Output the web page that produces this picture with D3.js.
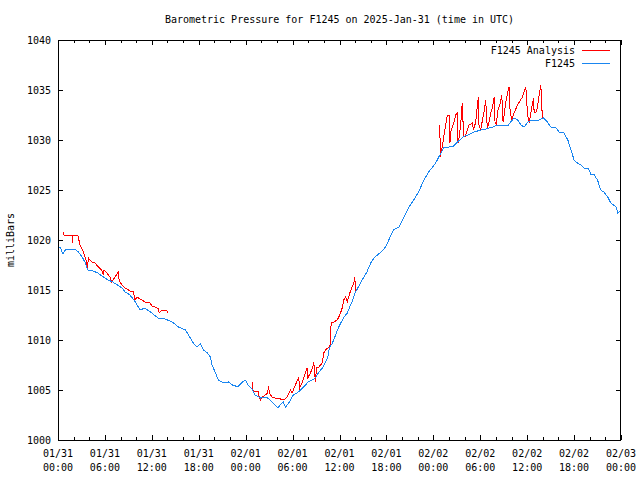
<!DOCTYPE html>
<html>
<head>
<meta charset="utf-8">
<script src="https://cdn.jsdelivr.net/npm/d3@7"></script>
<style>
  body { margin: 0; background: #fff; }
  svg text { font-family: "DejaVu Sans Mono", monospace; font-size: 10px; fill: #000; }
</style>
</head>
<body>
<svg id="chart" width="640" height="480"></svg>
<script>
// hours after 2025-01-31 00:00 UTC
const stationHours = [
  0.0, 0.26, 0.64, 1.0, 2.2, 2.6, 3.1, 3.5, 3.8, 4.5, 5.1, 5.8, 6.4, 7.0, 7.6, 8.2, 8.6, 9.2, 9.9, 10.5,
  11.1, 12.0, 12.8, 13.7, 14.6, 15.4, 16.3, 16.7, 17.3, 17.8, 18.2, 18.6, 19.1, 19.5, 19.7, 20.1, 20.5, 21.0,
  21.4, 21.8, 22.3, 22.7, 23.1, 23.6, 24.0, 24.3, 24.9, 25.2, 25.9, 26.3, 26.8, 27.4, 28.1, 28.4, 28.8,
  29.1, 29.5, 30.1, 30.6, 31.0, 31.4, 32.0, 32.5, 32.9, 33.3, 33.9, 34.5, 34.7, 35.1, 35.5, 35.9, 36.5,
  37.0, 37.3, 37.7, 38.0, 38.4, 38.9, 39.5, 40.0, 40.4, 41.3, 41.9, 42.3, 42.9, 43.6, 44.2, 44.8, 45.5,
  46.1, 46.8, 47.4, 47.9, 48.3, 48.7, 49.3, 50.0, 50.6, 51.1, 51.8, 52.4, 53.2, 54.1, 54.7, 55.1, 55.6,
  56.2, 56.9, 57.5, 57.9, 58.3, 58.8, 59.2, 59.6, 60.1, 60.7, 61.5, 62.1, 62.6, 63.0, 63.7, 64.1, 64.7,
  65.2, 65.6, 66.0, 66.2, 66.9, 67.3, 67.8, 68.2, 68.5, 69.0, 69.4, 69.8, 70.3, 70.7, 71.4, 71.6, 72.0,
];
const stationPressure = [
  1019.3, 1019.3, 1018.6, 1019.1, 1019.1, 1018.8, 1018.3, 1017.7, 1017.0, 1016.9, 1016.7, 1016.3, 1016.0,
  1015.8, 1015.5, 1015.2, 1014.8, 1014.5, 1013.8, 1013.0, 1013.2, 1012.7, 1012.2, 1012.1, 1011.8, 1011.3,
  1011.0, 1010.5, 1009.7, 1009.3, 1009.6, 1009.0, 1008.7, 1008.3, 1007.5, 1006.8, 1006.0, 1005.8, 1005.7,
  1005.8, 1005.5, 1005.4, 1005.4, 1005.8, 1006.0, 1005.5, 1005.0, 1004.5, 1004.2, 1004.3, 1004.2, 1003.8,
  1003.2, 1003.5, 1003.8, 1003.3, 1003.7, 1004.5, 1004.7, 1005.0, 1005.3, 1005.8, 1006.0, 1006.2, 1006.7,
  1007.3, 1008.3, 1009.2, 1009.7, 1010.5, 1011.3, 1012.2, 1012.7, 1013.3, 1014.0, 1014.7, 1015.3, 1016.0,
  1016.8, 1017.7, 1018.2, 1018.8, 1019.3, 1020.0, 1021.0, 1021.3, 1022.2, 1023.2, 1024.0, 1024.8, 1026.0,
  1026.8, 1027.3, 1027.7, 1028.3, 1029.2, 1029.3, 1029.4, 1029.8, 1030.3, 1030.5, 1030.8, 1031.0, 1031.1,
  1031.2, 1031.3, 1031.5, 1031.5, 1031.4, 1031.8, 1032.2, 1032.0, 1031.5, 1031.3, 1031.8, 1032.0, 1032.0,
  1032.2, 1031.8, 1031.3, 1031.2, 1030.8, 1030.7, 1030.0, 1029.0, 1028.0, 1027.8, 1027.5, 1027.2, 1027.2,
  1026.5, 1026.6, 1026.0, 1025.0, 1024.8, 1024.3, 1023.7, 1023.3, 1022.7, 1023.0,
];

// analysis runs, one segment per day
const analysisHours1 = [
  0.68, 0.77, 1.79, 1.83, 1.88, 2.52, 2.82, 3.24, 3.46, 3.68, 3.75, 3.88, 4.32, 4.74, 5.16, 5.60, 5.80,
  5.89, 6.24, 6.66, 6.88, 7.30, 7.72, 7.81, 8.16, 8.58, 9.22, 9.65, 9.86, 10.08, 10.72, 11.15, 11.79,
  12.0, 12.43, 12.85, 12.94, 13.28, 13.93, 14.05,
];
const analysisPressure1 = [
  1020.8, 1020.5, 1020.5, 1019.7, 1020.5, 1020.5, 1019.5, 1018.8, 1018.3, 1017.8, 1017.0, 1018.2, 1017.8,
  1017.7, 1017.3, 1017.0, 1016.5, 1017.0, 1016.7, 1016.3, 1015.8, 1016.3, 1016.8, 1016.0, 1015.5, 1015.2,
  1014.9, 1014.8, 1014.0, 1014.3, 1014.0, 1013.8, 1013.7, 1013.4, 1013.3, 1013.1, 1012.7, 1013.0, 1012.9,
  1012.7,
];
const analysisHours2 = [
  24.81, 24.82, 25.02, 25.62, 25.75, 25.88, 26.10, 26.52, 26.81, 26.94, 27.03, 27.38, 27.80, 28.44, 28.86,
  29.30, 29.72, 29.94, 30.36, 30.78, 30.91, 31.22, 31.64, 31.86, 31.94, 32.28, 32.58, 32.71, 32.92, 33.05,
  33.35, 33.78, 33.99, 34.20, 34.50, 34.76, 34.85, 34.93, 35.27, 35.70, 35.91, 36.13, 36.34, 36.55, 36.77,
  36.99, 37.32, 37.62, 37.83, 37.96, 38.05,
];
const analysisPressure2 = [
  1006.0, 1005.0, 1004.9, 1004.9, 1004.2, 1004.0, 1004.3, 1004.5, 1004.7, 1005.4, 1004.7, 1004.3, 1004.2,
  1004.1, 1004.0, 1004.3, 1005.0, 1004.7, 1005.5, 1006.3, 1005.2, 1005.7, 1006.7, 1007.2, 1006.2, 1006.7,
  1007.3, 1007.8, 1005.8, 1007.2, 1007.3, 1007.7, 1008.7, 1009.0, 1009.2, 1009.3, 1010.0, 1011.7, 1011.8,
  1012.0, 1012.3, 1012.7, 1013.2, 1014.0, 1014.3, 1013.8, 1014.7, 1015.3, 1015.7, 1016.3, 1014.7,
];
const analysisHours3 = [
  48.85, 48.86, 49.15, 49.36, 49.58, 49.80, 50.09, 50.12, 50.22, 50.44, 50.64, 50.86, 51.07, 51.15, 51.28,
  51.50, 51.63, 51.72, 51.85, 52.05, 52.36, 52.56, 52.99, 53.13, 53.42, 53.64, 53.77, 53.84, 54.06, 54.28,
  54.48, 54.70, 54.82, 54.91, 55.12, 55.34, 55.56, 55.77, 55.89, 56.07, 56.20, 56.50, 56.75, 56.92, 57.05,
  57.27, 57.49, 57.69, 57.82, 58.04, 58.33, 58.76, 59.40, 59.83, 60.05, 60.25, 60.60, 60.81, 60.89, 61.11,
  61.32, 61.53, 61.75, 61.87, 61.96,
];
const analysisPressure3 = [
  1031.5, 1028.3, 1029.3, 1030.5, 1031.5, 1032.5, 1032.5, 1029.7, 1030.8, 1031.3, 1031.8, 1032.5, 1032.7,
  1029.7, 1030.2, 1031.5, 1033.2, 1033.7, 1030.5, 1030.3, 1031.0, 1031.5, 1031.7, 1031.0, 1031.8, 1033.5,
  1034.3, 1031.5, 1031.0, 1032.0, 1032.8, 1034.0, 1032.2, 1031.2, 1031.8, 1032.7, 1033.2, 1034.3, 1031.8,
  1031.5, 1032.8, 1033.5, 1034.5, 1031.8, 1032.5, 1033.8, 1034.7, 1035.3, 1032.8, 1032.0, 1032.7, 1033.5,
  1034.3, 1035.3, 1032.5, 1031.7, 1033.3, 1034.2, 1032.8, 1032.7, 1033.3, 1034.5, 1035.5, 1033.3, 1032.2,
];

const yTicks = [1000, 1005, 1010, 1015, 1020, 1025, 1030, 1035, 1040];
const seriesNames = ["F1245 Analysis", "F1245"];
const seriesColors = ["#ff0000", "#1a86f0"];

const PLOT = { left: 58, right: 621, top: 40, bottom: 440 };
const START = Date.UTC(2025, 0, 31);
const HOUR = 3600 * 1000;

const svg = d3.select("#chart");

const x = d3
  .scaleUtc()
  .domain([new Date(START), new Date(START + 72 * HOUR)])
  .range([PLOT.left, PLOT.right]);

const y = d3.scaleLinear().domain([1000, 1040]).range([PLOT.bottom, PLOT.top]);

const toPoints = (hours, values) =>
  hours.map((h, i) => ({ t: new Date(START + h * HOUR), v: values[i] }));

const line = d3
  .line()
  .x((d) => x(d.t))
  .y((d) => y(d.v));

// title and axis label
svg
  .append("text")
  .attr("x", (PLOT.left + PLOT.right) / 2)
  .attr("y", 23)
  .attr("text-anchor", "middle")
  .text("Barometric Pressure for F1245 on 2025-Jan-31 (time in UTC)");

svg
  .append("text")
  .attr("transform", `translate(14, 240) rotate(-90)`)
  .attr("text-anchor", "middle")
  .text("milliBars");

// ticks, inward and mirrored like gnuplot
const majorTimes = d3.utcHour.every(6).range(x.domain()[0], new Date(START + 72 * HOUR + 1));
const minorTimes = d3.utcHour.every(2).range(x.domain()[0], new Date(START + 72 * HOUR + 1));

const tickG = svg.append("g").attr("stroke", "#000").attr("shape-rendering", "crispEdges");

const xTick = (times, len) =>
  times.forEach((t) => {
    const px = Math.round(x(t)) + 0.5;
    tickG.append("line").attr("x1", px).attr("x2", px).attr("y1", PLOT.bottom).attr("y2", PLOT.bottom - len);
    tickG.append("line").attr("x1", px).attr("x2", px).attr("y1", PLOT.top).attr("y2", PLOT.top + len);
  });
xTick(minorTimes, 3);
xTick(majorTimes, 5);

yTicks.forEach((v) => {
  const py = Math.round(y(v)) + 0.5;
  tickG.append("line").attr("x1", PLOT.left).attr("x2", PLOT.left + 5).attr("y1", py).attr("y2", py);
  tickG.append("line").attr("x1", PLOT.right).attr("x2", PLOT.right - 5).attr("y1", py).attr("y2", py);
});

svg
  .append("g")
  .selectAll("text")
  .data(yTicks)
  .join("text")
  .attr("x", 51)
  .attr("y", (d) => y(d) + 4)
  .attr("text-anchor", "end")
  .text((d) => d);

const fmtDay = d3.utcFormat("%m/%d");
const fmtTime = d3.utcFormat("%H:%M");

const xLabels = svg
  .append("g")
  .selectAll("text")
  .data(majorTimes)
  .join("text")
  .attr("text-anchor", "middle")
  .attr("x", (d) => x(d));

xLabels.append("tspan").attr("x", (d) => x(d)).attr("y", 457).text(fmtDay);
xLabels.append("tspan").attr("x", (d) => x(d)).attr("y", 471).text(fmtTime);

// series: analysis first, station on top (aliased like gnuplot png)
const analysisSegments = [
  toPoints(analysisHours1, analysisPressure1),
  toPoints(analysisHours2, analysisPressure2),
  toPoints(analysisHours3, analysisPressure3),
];

svg
  .append("g")
  .selectAll("path")
  .data(analysisSegments)
  .join("path")
  .attr("d", line)
  .attr("fill", "none")
  .attr("stroke", seriesColors[0])
  .attr("stroke-width", 1)
  .attr("shape-rendering", "crispEdges");

svg
  .append("path")
  .datum(toPoints(stationHours, stationPressure))
  .attr("d", line)
  .attr("fill", "none")
  .attr("stroke", seriesColors[1])
  .attr("stroke-width", 1)
  .attr("shape-rendering", "crispEdges");

// legend
const legend = svg
  .append("g")
  .selectAll("g")
  .data(seriesNames)
  .join("g")
  .attr("transform", (d, i) => `translate(0, ${50 + i * 13})`);

legend
  .append("text")
  .attr("x", 575)
  .attr("y", 4)
  .attr("text-anchor", "end")
  .text((d) => d);

legend
  .append("line")
  .attr("x1", 582)
  .attr("x2", 610)
  .attr("y1", 0.5)
  .attr("y2", 0.5)
  .attr("stroke", (d, i) => seriesColors[i])
  .attr("shape-rendering", "crispEdges");

// border
svg
  .append("rect")
  .attr("x", PLOT.left + 0.5)
  .attr("y", PLOT.top + 0.5)
  .attr("width", PLOT.right - PLOT.left - 1)
  .attr("height", PLOT.bottom - PLOT.top)
  .attr("fill", "none")
  .attr("stroke", "#000")
  .attr("shape-rendering", "crispEdges");
</script>
</body>
</html>
